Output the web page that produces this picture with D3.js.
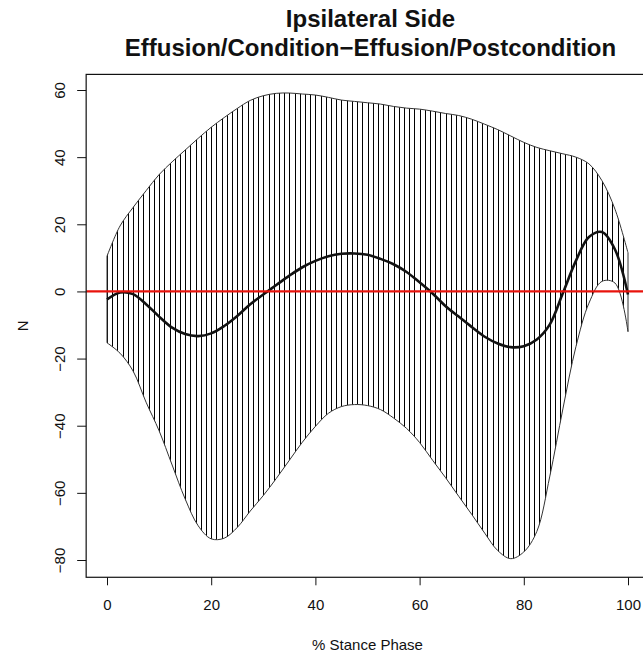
<!DOCTYPE html>
<html><head><meta charset="utf-8">
<script src="https://cdn.jsdelivr.net/npm/d3@7"></script>
<style>
body{margin:0;background:#fff}
svg{display:block}
text{font-family:"Liberation Sans",Arial,Helvetica,sans-serif;fill:#111}
</style>
</head><body>
<svg id="chart" width="643" height="656"></svg>
<script>
// ---- data ----
const stance = [0,2.5,5,7.5,10,12.5,15,17.5,20,22.5,25,27.5,30,32.5,35,37.5,40,42.5,45,47.5,50,
                52.5,55,57.5,60,62.5,65,67.5,70,72.5,75,77.5,80,82.5,85,87.5,90,92.5,95,97.5,100];
const upperBound = [10.5,19.5,25,30,34.8,38.6,42.1,45.6,48.9,51.8,54.5,56.9,58.3,59,59.1,58.8,58.5,57.8,57.0,56.6,56.2,
                    55.8,55.1,54.6,54.3,53.7,53.0,52.4,51.3,49.8,48.2,46.3,44.4,42.9,41.9,41.0,40.0,38.0,33.0,24.5,11.5];
const lowerBound = [-15.3,-18.4,-23.7,-33,-41.5,-51.7,-61.8,-69.8,-73.7,-73.5,-70.3,-65.4,-60.8,-55.7,-50.3,-44.9,-40.2,-36.3,-34.3,-33.7,-34,
                    -35.2,-37.7,-40.8,-45,-50.3,-55.5,-61,-66.4,-72,-77.2,-79.6,-77.6,-71.5,-55,-35,-16.5,-3.5,3,2.5,-12];
const meanDiff   = [-2.4,-0.3,-0.8,-3.8,-7.5,-10.8,-12.7,-13.3,-12.5,-10.3,-7.3,-3.8,-0.9,1.9,4.7,7.2,9.1,10.5,11.2,11.3,10.9,
                    9.7,8.1,5.8,2.7,-0.6,-4.4,-7.5,-10.6,-13.5,-15.5,-16.6,-16.3,-14.3,-9.8,-0.5,9.1,16.2,17.7,12.5,-0.9];
const xTicks = [0,20,40,60,80,100];
const yTicks = [-80,-60,-40,-20,0,20,40,60];
const refLine = 0;
const titleLines = ["Ipsilateral Side","Effusion/Condition\u2212Effusion/Postcondition"];
const xLabel = "% Stance Phase";
const yLabel = "N";

// ---- layout ----
const svg = d3.select("#chart");
svg.append("rect").attr("width",643).attr("height",656).attr("fill","#fff");

const x = d3.scaleLinear().domain([0,100]).range([107,628]);
const y = d3.scaleLinear().domain([-80,60]).range([560,90]);

// R-style 4% extension of the data range for the plot box
const xr = d3.extent(stance), yr = [d3.min(lowerBound), d3.max(upperBound)];
const xPad = (xr[1]-xr[0])*0.04, yPad = (yr[1]-yr[0])*0.04;
const bx0 = x(xr[0]-xPad), bx1 = x(xr[1]+xPad);
const by0 = y(yr[1]+yPad), by1 = y(yr[0]-yPad);

const pts = stance.map((s,i)=>({s, lo:lowerBound[i], hi:upperBound[i], m:meanDiff[i]}));
const curve = d3.curveCatmullRom.alpha(0.5);
const area = d3.area().x(d=>x(d.s)).y0(d=>y(d.lo)).y1(d=>y(d.hi)).curve(curve);

const defs = svg.append("defs");
defs.append("clipPath").attr("id","plotclip").append("rect")
  .attr("x",bx0).attr("y",by0).attr("width",bx1-bx0).attr("height",by1-by0);
defs.append("clipPath").attr("id","bandclip").append("path").datum(pts).attr("d",area);

const g = svg.append("g").attr("clip-path","url(#plotclip)");

// vertical hatching at every 1 % of stance, clipped to the band
const hatch = g.append("g").attr("clip-path","url(#bandclip)");
hatch.selectAll("line").data(d3.range(xr[0], xr[1]+1, 1)).join("line")
  .attr("x1",d=>Math.round(x(d))+0.5).attr("x2",d=>Math.round(x(d))+0.5)
  .attr("y1",by0).attr("y2",by1)
  .attr("stroke","#000").attr("stroke-width",1).attr("shape-rendering","crispEdges");

g.append("path").datum(pts).attr("d",area).attr("fill","none")
  .attr("stroke","#333").attr("stroke-width",1);

const line = d3.line().x(d=>x(d.s)).y(d=>y(d.m)).curve(curve);
g.append("path").datum(pts).attr("d",line).attr("fill","none")
  .attr("stroke","#111").attr("stroke-width",2.6);

g.append("line").attr("x1",bx0).attr("x2",bx1).attr("y1",y(refLine)).attr("y2",y(refLine))
  .attr("stroke","#e8130c").attr("stroke-width",2.2);

// box
svg.append("rect").attr("x",bx0).attr("y",by0).attr("width",bx1-bx0).attr("height",by1-by0)
  .attr("fill","none").attr("stroke","#111").attr("stroke-width",1.2);

// axes
const ax = svg.append("g").attr("transform",`translate(0,${by1})`)
  .call(d3.axisBottom(x).tickValues(xTicks).tickSize(8).tickPadding(14).tickFormat(d3.format("d")));
ax.select(".domain").remove();
ax.selectAll("line").attr("stroke","#111");
ax.selectAll("text").attr("font-size",15).style("font-family","Liberation Sans, Arial, sans-serif").attr("fill","#222");

const ay = svg.append("g").attr("transform",`translate(${bx0},0)`)
  .call(d3.axisLeft(y).tickValues(yTicks).tickSize(9).tickFormat(d3.format("d")));
ay.select(".domain").remove();
ay.selectAll("line").attr("stroke","#111");
ay.selectAll("text").attr("font-size",15).attr("fill","#222")
  .style("font-family","Liberation Sans, Arial, sans-serif")
  .attr("x",null).attr("dy",null).attr("text-anchor","middle")
  .attr("transform","translate(-21,0) rotate(-90)");

// labels
svg.append("text").attr("x",(bx0+bx1)/2).attr("y",650).attr("text-anchor","middle")
  .attr("font-size",15).attr("fill","#222").text(xLabel);
svg.append("text").attr("transform",`translate(28,${(by0+by1)/2}) rotate(-90)`).attr("text-anchor","middle")
  .attr("font-size",15).attr("fill","#222").text(yLabel);

// title
const tx = (bx0+bx1)/2 + 3;
titleLines.forEach((t,i)=>{
  svg.append("text").attr("x",tx).attr("y",26.5+i*29).attr("text-anchor","middle")
    .attr("font-size",24).attr("font-weight","bold").attr("fill","#111").text(t);
});
</script>
</body></html>
